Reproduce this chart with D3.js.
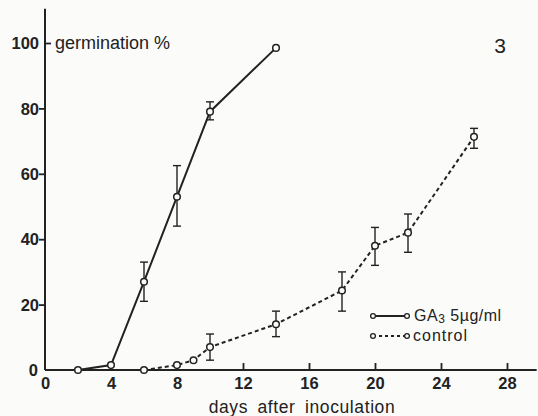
<!DOCTYPE html>
<html>
<head>
<meta charset="utf-8">
<script src="https://cdn.jsdelivr.net/npm/d3@7"></script>
<style>
  html, body { margin: 0; padding: 0; background: #fbfbfa; }
  svg { display: block; }
  text { font-family: "Liberation Sans", Arial, Helvetica, sans-serif; fill: #222; }
</style>
</head>
<body>
<svg id="chart" width="538" height="416"></svg>
<script>
// ---- data ----
const xTicks = [0, 4, 8, 12, 16, 20, 24, 28];
const yTicks = [0, 20, 40, 60, 80, 100];

const gaDays   = [2, 4, 6, 8, 10, 14];
const gaValues = [0, 1.5, 27, 53, 79, 98.5];
const gaLow    = [null, null, 21, 44, 76.5, null];
const gaHigh   = [null, null, 33, 62.5, 82, null];

const ctrlDays   = [6, 8, 9, 10, 14, 18, 20, 22, 26];
const ctrlValues = [0, 1.5, 3, 7, 14, 24.3, 38, 42, 71.3];
const ctrlLow    = [null, null, null, 3, 10.2, 18, 32, 36, 67.8];
const ctrlHigh   = [null, null, null, 11, 18, 30, 43.6, 47.7, 73.9];

const legendLabels = ["GA", "control"];

// ---- scales ----
const svg = d3.select("#chart");
const x = d3.scaleLinear().domain([0, 28]).range([45, 507]);
const y = d3.scaleLinear().domain([0, 100]).range([370, 43]);
const ink = "#222";

// axes lines
svg.append("line").attr("x1", x(0)).attr("x2", x(29.8)).attr("y1", y(0)).attr("y2", y(0))
  .attr("stroke", ink).attr("stroke-width", 2);
svg.append("line").attr("x1", x(0)).attr("x2", x(0)).attr("y1", y(0)).attr("y2", y(110.5))
  .attr("stroke", ink).attr("stroke-width", 2);

// y axis
const yAxis = svg.append("g").attr("transform", `translate(${x(0)},0)`)
  .call(d3.axisLeft(y).tickValues(yTicks).tickSize(6).tickPadding(6).tickFormat(d3.format("d")));
yAxis.select(".domain").remove();
yAxis.selectAll(".tick line").attr("stroke", ink).attr("stroke-width", 1.8)
  .attr("x2", d => d === 100 ? 6 : (d === 0 ? 0 : -6));
yAxis.selectAll(".tick text").attr("font-size", 16.5).attr("font-weight", "bold").attr("fill", ink)
  .attr("x", d => d === 0 ? -7 : -6).attr("dy", "0.34em");

// x axis
const xAxis = svg.append("g").attr("transform", `translate(0,${y(0)})`)
  .call(d3.axisBottom(x).tickValues(xTicks).tickSize(0).tickPadding(7).tickFormat(d3.format("d")));
xAxis.select(".domain").remove();
xAxis.selectAll(".tick text").attr("font-size", 16.5).attr("font-weight", "bold").attr("fill", ink);
xAxis.selectAll(".tick").filter(d => d > 0).append("line")
  .attr("y1", 0).attr("y2", -7).attr("stroke", ink).attr("stroke-width", 1.8);

// labels
svg.append("text").attr("x", 55).attr("y", 49).attr("font-size", 18).text("germination %");
svg.append("text").attr("x", 302).attr("y", 413).attr("text-anchor", "middle")
  .attr("font-size", 17.5).attr("word-spacing", 4).attr("letter-spacing", 0.6).text("days after inoculation");
svg.append("text").attr("x", 500).attr("y", 53).attr("text-anchor", "middle")
  .attr("font-size", 21).text("3");

// series drawing
function drawSeries(days, vals, lo, hi, dash) {
  const pts = days.map((d, i) => ({ d, v: vals[i], lo: lo[i], hi: hi[i] }));
  const line = d3.line().x(p => x(p.d)).y(p => y(p.v));
  svg.append("path").datum(pts).attr("d", line).attr("fill", "none")
    .attr("stroke", ink).attr("stroke-width", 2).attr("stroke-dasharray", dash);
  const eb = svg.append("g").selectAll("g").data(pts.filter(p => p.lo !== null)).join("g")
    .attr("stroke", ink).attr("stroke-width", 1.4);
  eb.append("line").attr("x1", p => x(p.d)).attr("x2", p => x(p.d))
    .attr("y1", p => y(p.lo)).attr("y2", p => y(p.hi));
  eb.append("line").attr("x1", p => x(p.d) - 4).attr("x2", p => x(p.d) + 4)
    .attr("y1", p => y(p.lo)).attr("y2", p => y(p.lo));
  eb.append("line").attr("x1", p => x(p.d) - 4).attr("x2", p => x(p.d) + 4)
    .attr("y1", p => y(p.hi)).attr("y2", p => y(p.hi));
  svg.append("g").selectAll("circle").data(pts).join("circle")
    .attr("cx", p => x(p.d)).attr("cy", p => y(p.v)).attr("r", 3.3)
    .attr("fill", "#fbfbfa").attr("stroke", ink).attr("stroke-width", 1.5);
}
drawSeries(ctrlDays, ctrlValues, ctrlLow, ctrlHigh, "4,3");
drawSeries(gaDays, gaValues, gaLow, gaHigh, null);

// legend
const legRows = [
  { y: 316, dash: null },
  { y: 336, dash: "3,3" }
];
legRows.forEach((r, i) => {
  svg.append("line").attr("x1", 373).attr("x2", 407).attr("y1", r.y).attr("y2", r.y)
    .attr("stroke", ink).attr("stroke-width", 1.8).attr("stroke-dasharray", r.dash);
  [373, 407].forEach(cx => svg.append("circle").attr("cx", cx).attr("cy", r.y).attr("r", 2.4)
    .attr("fill", "#fbfbfa").attr("stroke", ink).attr("stroke-width", 1.3));
});
const t1 = svg.append("text").attr("x", 414).attr("y", 321).attr("font-size", 16).attr("letter-spacing", 0.5);
t1.append("tspan").text(legendLabels[0]);
t1.append("tspan").attr("font-size", 12).attr("dy", 2).text("3");
t1.append("tspan").attr("dy", -2).text(" 5µg/ml");
svg.append("text").attr("x", 413).attr("y", 341).attr("font-size", 16).attr("letter-spacing", 1)
  .text(legendLabels[1]);
</script>
</body>
</html>
